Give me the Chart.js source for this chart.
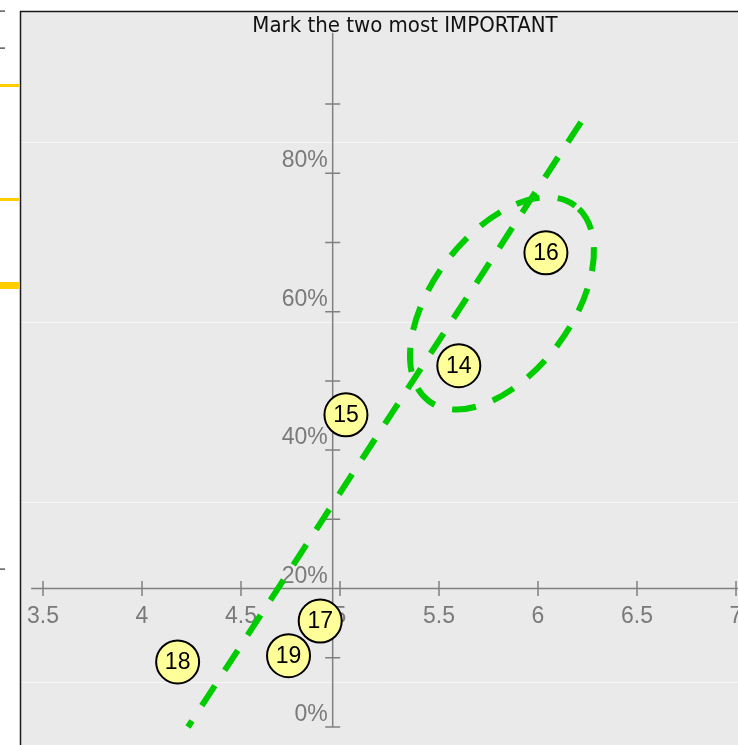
<!DOCTYPE html>
<html lang="en">

<head>
  <meta charset="UTF-8">
  <meta name="viewport" content="width=device-width, initial-scale=1.0">
  <title>Mark the two most IMPORTANT</title>
  <style>
    html, body {
      margin: 0;
      padding: 0;
      background: #fff;
    }
    #wrap {
      position: relative;
      width: 738px;
      height: 745px;
    }
  </style>
</head>

<body>
  <div id="wrap">
    <canvas id="scatterChart"></canvas>
  </div>

  <script src="https://cdn.jsdelivr.net/npm/chart.js"></script>
  <script>
    // numbered points (label is written inside the circle)
    const pointLabels = ['14', '15', '16', '17', '18', '19'];
    const xValues = [5.60, 5.03, 6.04, 4.90, 4.18, 4.74];
    const yValues = [52.2, 45.1, 68.5, 15.3, 9.4, 10.3];

    // dashed trend line, from its top end down
    const trendX = [6.217, 4.232];
    const trendY = [87.4, 0];

    // dashed ellipse round 14 and 16 : centre, end of long axis, end of short axis
    const ellipseX = [5.818, 6.188, 6.100];
    const ellipseY = [61.2, 75.3, 55.2];

    // axes
    const xTicks = [3.5, 4, 4.5, 5, 5.5, 6, 6.5, 7];
    const yTicks = [0, 10, 20, 30, 40, 50, 60, 70, 80, 90];
    const yTickLabels = [0, 20, 40, 60, 80];
    const bgGridY = [6.5, 32.5, 58.5, 84.5];   // faint lines of the background

    const xAxisAtY = 20;      // horizontal axis crosses here
    const yAxisAtX = 4.963;   // vertical axis crosses here
    const xAxisFrom = 3.44;
    const yAxisTo = 100.3;

    const GREEN = '#00cc00';

    // grey panel, frame and the faint background lines
    const framePlugin = {
      id: 'frame',
      beforeDraw(chart) {
        const { ctx, width, height } = chart;
        const y = chart.scales.y;
        ctx.save();
        ctx.fillStyle = '#fff';
        ctx.fillRect(0, 0, width, height);
        ctx.fillStyle = '#eaeaea';
        ctx.fillRect(21, 12, width - 21, height - 12);

        ctx.strokeStyle = '#f6f6f6';
        ctx.lineWidth = 1;
        bgGridY.forEach(v => {
          const py = Math.round(y.getPixelForValue(v)) + 0.5;
          ctx.beginPath();
          ctx.moveTo(21, py);
          ctx.lineTo(width, py);
          ctx.stroke();
        });

        ctx.strokeStyle = '#1a1a1a';
        ctx.lineWidth = 1.5;
        ctx.beginPath();
        ctx.moveTo(20.5, height);
        ctx.lineTo(20.5, 11.5);
        ctx.lineTo(width, 11.5);
        ctx.stroke();

        // cut-off bits of the panel next to this one
        ctx.fillStyle = '#333';
        [11, 48, 569].forEach(py => ctx.fillRect(0, py - 0.5, 5, 1.2));
        ctx.fillStyle = '#ffcc00';
        ctx.fillRect(0, 84, 19, 3);
        ctx.fillRect(0, 198, 19, 3);
        ctx.fillRect(0, 282, 19, 7);
        ctx.restore();
      }
    };

    // crossing axes with ticks both sides, tick labels, title and the ellipse
    const axesPlugin = {
      id: 'axes',
      beforeDatasetsDraw(chart) {
        const { ctx, width } = chart;
        const { x, y } = chart.scales;
        const ax = x.getPixelForValue(yAxisAtX);
        const ay = y.getPixelForValue(xAxisAtY);
        ctx.save();
        ctx.strokeStyle = '#808080';
        ctx.lineWidth = 1.5;
        ctx.beginPath();
        ctx.moveTo(x.getPixelForValue(xAxisFrom), ay);
        ctx.lineTo(width, ay);
        ctx.moveTo(ax, y.getPixelForValue(0));
        ctx.lineTo(ax, y.getPixelForValue(yAxisTo));
        xTicks.forEach(v => {
          const px = x.getPixelForValue(v);
          ctx.moveTo(px, ay - 7.5);
          ctx.lineTo(px, ay + 7.5);
        });
        yTicks.forEach(v => {
          const py = y.getPixelForValue(v);
          ctx.moveTo(ax - 7.5, py);
          ctx.lineTo(ax + 7.5, py);
        });
        ctx.stroke();

        ctx.fillStyle = '#7a7a7a';
        ctx.font = '23px "Liberation Sans", Arial, sans-serif';
        ctx.textBaseline = 'alphabetic';
        ctx.textAlign = 'center';
        xTicks.forEach(v => ctx.fillText(String(v), x.getPixelForValue(v), ay + 34));
        ctx.textAlign = 'right';
        yTickLabels.forEach(v => ctx.fillText(v + '%', ax - 5, y.getPixelForValue(v) - 6));

        // title
        ctx.fillStyle = '#111';
        ctx.font = '22px "DejaVu Sans Condensed", "DejaVu Sans", sans-serif';
        ctx.textAlign = 'center';
        ctx.fillText('Mark the two most IMPORTANT', 405, 32);

        // ellipse
        const cx = x.getPixelForValue(ellipseX[0]), cy = y.getPixelForValue(ellipseY[0]);
        const mx = x.getPixelForValue(ellipseX[1]), my = y.getPixelForValue(ellipseY[1]);
        const nx = x.getPixelForValue(ellipseX[2]), ny = y.getPixelForValue(ellipseY[2]);
        const a = Math.hypot(mx - cx, my - cy);
        const b = Math.hypot(nx - cx, ny - cy);
        const rot = Math.atan2(my - cy, mx - cx);
        ctx.strokeStyle = GREEN;
        ctx.lineWidth = 6;
        ctx.setLineDash([24, 18]);
        ctx.lineDashOffset = 37;
        ctx.beginPath();
        ctx.ellipse(cx, cy, a, b, rot, 0, Math.PI * 2);
        ctx.stroke();
        ctx.restore();
      }
    };

    // numbers inside the circles
    const numberPlugin = {
      id: 'numbers',
      afterDatasetsDraw(chart) {
        const { ctx } = chart;
        const meta = chart.getDatasetMeta(0);
        ctx.save();
        ctx.fillStyle = '#000';
        ctx.font = '23px "Liberation Sans", Arial, sans-serif';
        ctx.textAlign = 'center';
        ctx.textBaseline = 'middle';
        meta.data.forEach((pt, i) => ctx.fillText(pointLabels[i], pt.x, pt.y + 1));
        ctx.restore();
      }
    };

    const ctx = document.getElementById('scatterChart');
    new Chart(ctx, {
      type: 'scatter',
      data: {
        datasets: [{
          label: 'points',
          data: xValues.map((v, i) => ({ x: v, y: yValues[i] })),
          pointRadius: 21.5,
          pointHoverRadius: 21.5,
          pointBackgroundColor: '#ffff99',
          pointBorderColor: '#000',
          pointBorderWidth: 2
        }, {
          label: 'trend',
          data: trendX.map((v, i) => ({ x: v, y: trendY[i] })),
          showLine: true,
          pointRadius: 0,
          borderColor: GREEN,
          borderWidth: 6,
          borderDash: [24, 18]
        }]
      },
      options: {
        responsive: true,
        maintainAspectRatio: false,
        animation: false,
        events: [],
        layout: { padding: 0, autoPadding: false },
        plugins: {
          legend: { display: false },
          tooltip: { enabled: false }
        },
        scales: {
          x: { type: 'linear', display: false, min: 3.2828, max: 7.0101 },
          y: { type: 'linear', display: false, min: -2.600, max: 105.028 }
        }
      },
      plugins: [framePlugin, axesPlugin, numberPlugin]
    });
  </script>
</body>

</html>
